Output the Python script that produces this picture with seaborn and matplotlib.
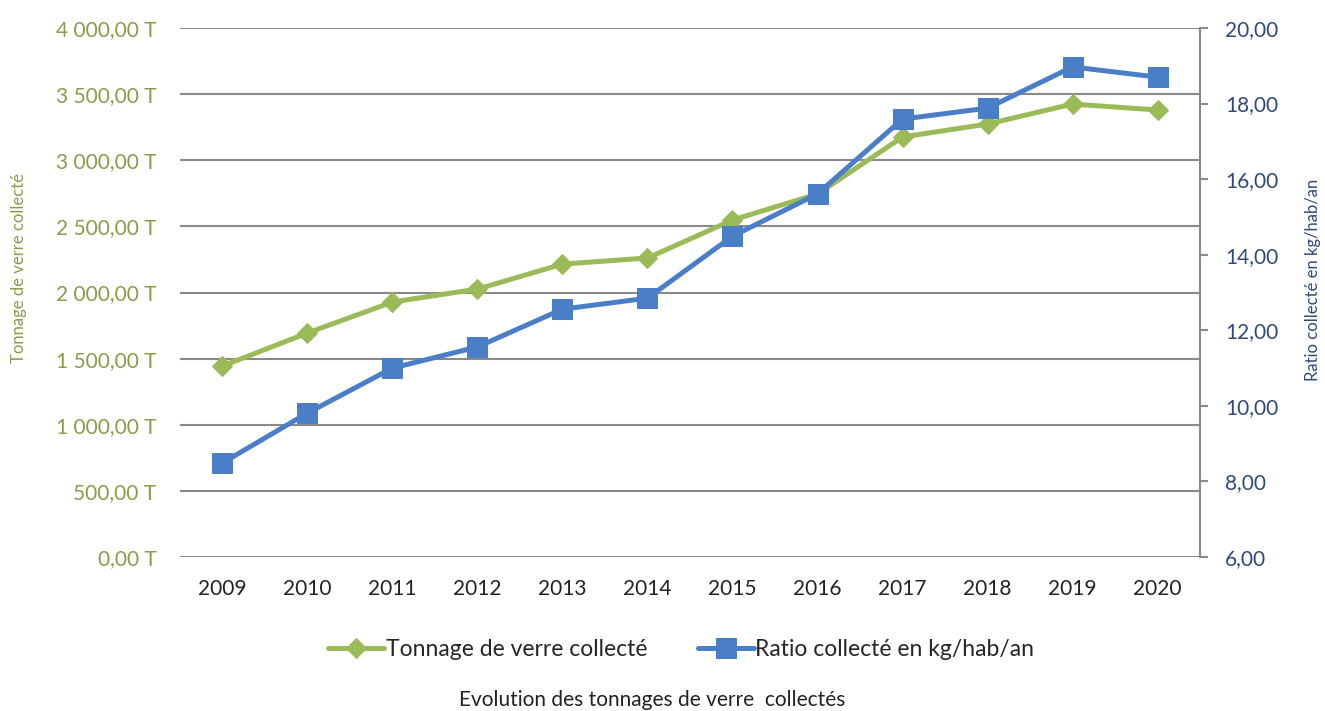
import pandas as pd
import seaborn as sns
import matplotlib.pyplot as plt
from matplotlib.ticker import FuncFormatter, MultipleLocator

# Values
years = ['2009', '2010', '2011', '2012', '2013', '2014',
         '2015', '2016', '2017', '2018', '2019', '2020']
tonnage = [1444, 1694, 1928, 2026, 2215, 2261,
           2548, 2745, 3176, 3274, 3425, 3380]
ratio = [8.49, 9.81, 11.00, 11.56, 12.56, 12.85,
         14.49, 15.61, 17.59, 17.88, 18.97, 18.70]

label_tonnage = 'Tonnage de verre collecté'
label_ratio = 'Ratio collecté en kg/hab/an'
caption = 'Evolution des tonnages de verre  collectés'

green = '#9BBB59'
blue = '#4A7EC6'
green_txt = '#8C9A4A'
blue_txt = '#2F4A7A'
grid_col = '#8A8A8A'

df = pd.DataFrame({'annee': years, 'tonnage': tonnage, 'ratio': ratio})

sns.set_style('white')
plt.rcParams['font.family'] = ['Lato', 'DejaVu Sans']

fig = plt.figure(figsize=(13.25, 7.11), dpi=100)
ax = fig.add_axes([0.1358, 0.2166, 0.7699, 0.744])
ax2 = ax.twinx()

sns.lineplot(data=df, x='annee', y='tonnage', ax=ax, color=green, lw=3.6,
             marker='D', markersize=10, markeredgecolor=green, label=label_tonnage,
             legend=False)
sns.lineplot(data=df, x='annee', y='ratio', ax=ax2, color=blue, lw=3.6,
             marker='s', markersize=14.5, markeredgecolor=blue, label=label_ratio,
             legend=False)

# left axis
ax.set_ylim(0, 4000)
ax.yaxis.set_major_locator(MultipleLocator(500))
ax.yaxis.set_major_formatter(FuncFormatter(
    lambda v, p: f'{v:,.2f}'.replace(',', ' ').replace('.', ',') + ' T'))
ax.set_xlim(-0.5, len(years) - 0.5)
ax.grid(axis='y', color=grid_col, lw=1.5)
ax.set_axisbelow(True)
ax.tick_params(axis='y', colors=green_txt, labelsize=15, length=0, pad=17)
ax.tick_params(axis='x', colors='#222222', labelsize=15, length=0, pad=16)
ax.set_xlabel('')
ax.set_ylabel(label_tonnage, color=green_txt, fontsize=12)
ax.yaxis.set_label_coords(-0.150, 0.546)
for s in ['top', 'left', 'right', 'bottom']:
    ax.spines[s].set_visible(False)

# right axis
ax2.set_ylim(6, 20)
ax2.yaxis.set_major_locator(MultipleLocator(2))
ax2.yaxis.set_major_formatter(FuncFormatter(lambda v, p: f'{v:.2f}'.replace('.', ',')))
ax2.tick_params(axis='y', colors=grid_col, labelcolor=blue_txt, labelsize=15,
                length=6, width=1.5, direction='out', pad=12)
ax2.set_ylabel(label_ratio, color=blue_txt, fontsize=12)
ax2.yaxis.set_label_coords(1.103, 0.524)
for s in ['top', 'left', 'bottom']:
    ax2.spines[s].set_visible(False)
ax2.spines['right'].set_color(grid_col)
ax2.spines['right'].set_linewidth(1.5)

h1, l1 = ax.get_legend_handles_labels()
h2, l2 = ax2.get_legend_handles_labels()
fig.legend(h1 + h2, l1 + l2, loc='center', bbox_to_anchor=(0.514, 0.086),
           ncol=2, frameon=False, fontsize=16.5, handlelength=2.45,
           handletextpad=0.05, columnspacing=2.2)

fig.text(0.492, 0.016, caption, ha='center', va='center', fontsize=15, color='#222222')

fig.savefig('out.png', dpi=100)
